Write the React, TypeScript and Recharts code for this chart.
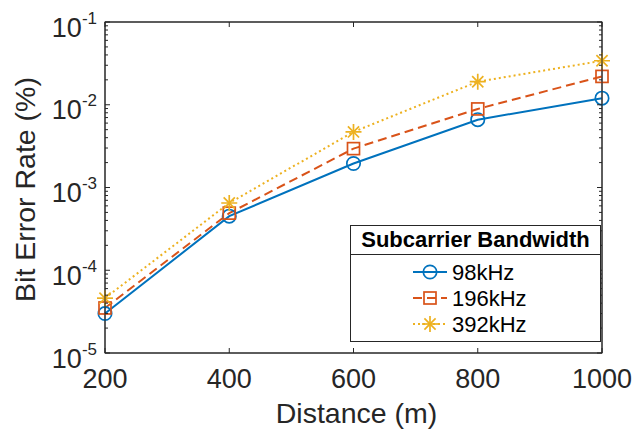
import React from 'react';
import { LineChart, Line, XAxis, YAxis, ReferenceLine } from 'recharts';

const distances = [200, 400, 600, 800, 1000];
const ber98 = [3.0e-5, 4.5e-4, 1.95e-3, 6.6e-3, 1.2e-2];
const ber196 = [3.5e-5, 4.9e-4, 2.95e-3, 8.9e-3, 2.2e-2];
const ber392 = [4.6e-5, 6.5e-4, 4.7e-3, 1.9e-2, 3.4e-2];
const seriesNames = ['98kHz', '196kHz', '392kHz'];
const legendTitle = 'Subcarrier Bandwidth';
const xTicks = [200, 400, 600, 800, 1000];
const yDecades = [1e-5, 1e-4, 1e-3, 1e-2, 1e-1];
const xLabel = 'Distance (m)';
const yLabel = 'Bit Error Rate (%)';

const FONT = '"Liberation Sans", Arial, Helvetica, sans-serif';
const AX = '#262626';

const W = 636;
const H = 429;
const Y_AXIS_W = 105;
const X_AXIS_H = 76;
const MARGIN = { top: 22, right: 34, bottom: 0, left: 0 };
const PLOT_X = MARGIN.left + Y_AXIS_W;
const PLOT_Y = MARGIN.top;
const PLOT_W = W - MARGIN.left - MARGIN.right - Y_AXIS_W;
const PLOT_H = H - MARGIN.top - MARGIN.bottom - X_AXIS_H;

const data = distances.map((d, i) => ({ d, s98: ber98[i], s196: ber196[i], s392: ber392[i] }));

const yTicks: number[] = [];
yDecades.forEach((dec, i) => {
  yTicks.push(dec);
  if (i < yDecades.length - 1) for (let m = 2; m <= 9; m++) yTicks.push(dec * m);
});
const isMajor = (v: number) => Math.abs(Math.log10(v) - Math.round(Math.log10(v))) < 1e-9;

const series = [
  { key: 's98', name: seriesNames[0], color: '#0072BD', dash: undefined as string | undefined, marker: 'circle' },
  { key: 's196', name: seriesNames[1], color: '#D95319', dash: '9 5', marker: 'square' },
  { key: 's392', name: seriesNames[2], color: '#EDB120', dash: '2 3', marker: 'star' },
];

function Marker({ cx, cy, type, color }: { cx: number; cy: number; type: string; color: string }) {
  const sw = 1.7;
  if (type === 'circle') return <circle cx={cx} cy={cy} r={6.7} fill="none" stroke={color} strokeWidth={sw} />;
  if (type === 'square') return <rect x={cx - 6} y={cy - 6} width={12} height={12} fill="none" stroke={color} strokeWidth={sw} />;
  const r = 8;
  const q = r * 0.7;
  return (
    <g stroke={color} strokeWidth={sw}>
      <line x1={cx - r} y1={cy} x2={cx + r} y2={cy} />
      <line x1={cx} y1={cy - r} x2={cx} y2={cy + r} />
      <line x1={cx - q} y1={cy - q} x2={cx + q} y2={cy + q} />
      <line x1={cx - q} y1={cy + q} x2={cx + q} y2={cy - q} />
    </g>
  );
}

const LeftYTick = (props: any) => {
  const { x, y, payload } = props;
  const v = payload.value;
  const major = isMajor(v);
  const len = major ? 5 : 3;
  const exp = Math.round(Math.log10(v));
  const xr = x + PLOT_W;
  return (
    <g>
      <line x1={x} y1={y} x2={x + len} y2={y} stroke={AX} strokeWidth={1} />
      <line x1={xr} y1={y} x2={xr - len} y2={y} stroke={AX} strokeWidth={1} />
      {major && (
        <text x={x - 8} y={y + 14.5} textAnchor="end" fontFamily={FONT} fontSize={27} fill={AX}>
          <tspan>10</tspan>
          <tspan fontSize={17} dy={-13}>{String(exp)}</tspan>
        </text>
      )}
    </g>
  );
};

const BottomXTick = (props: any) => {
  const { x, y, payload } = props;
  const yt = y - PLOT_H;
  return (
    <g>
      <line x1={x} y1={y} x2={x} y2={y - 5} stroke={AX} strokeWidth={1} />
      <line x1={x} y1={yt} x2={x} y2={yt + 5} stroke={AX} strokeWidth={1} />
      <text x={x} y={y + 35} textAnchor="middle" fontFamily={FONT} fontSize={27} fill={AX}>
        {payload.value}
      </text>
    </g>
  );
};

const LegendBox = () => {
  const w = 251;
  const h = 117;
  const rows = [55, 81, 107];
  return (
    <svg width={w} height={h} style={{ display: 'block' }}>
      <rect x={0.5} y={0.5} width={w - 1} height={h - 1} fill="#ffffff" stroke={AX} strokeWidth={1} />
      <line x1={0.5} y1={29.5} x2={w - 0.5} y2={29.5} stroke={AX} strokeWidth={1} />
      <text x={w / 2} y={22} textAnchor="middle" fontFamily={FONT} fontWeight="bold" fontSize={22} fill="#000">
        {legendTitle}
      </text>
      {series.map((s, i) => {
        const cy = rows[i] - 8;
        return (
          <g key={s.key}>
            <line x1={63} y1={cy} x2={97} y2={cy} stroke={s.color} strokeWidth={2} strokeDasharray={s.dash} />
            <Marker cx={80} cy={cy} type={s.marker} color={s.color} />
            <text x={102} y={rows[i]} fontFamily={FONT} fontSize={22} fill="#000">
              {s.name}
            </text>
          </g>
        );
      })}
    </svg>
  );
};

export default function App() {
  const ylx = 35;
  const yly = PLOT_Y + PLOT_H / 2 + 2;
  return (
    <div style={{ position: 'absolute', left: 0, top: 0, width: W, height: H }}>
      <LineChart width={W} height={H} data={data} margin={MARGIN}>
        <XAxis
          dataKey="d"
          type="number"
          domain={[200, 1000]}
          ticks={xTicks}
          interval={0}
          height={X_AXIS_H}
          tickSize={0}
          tickMargin={0}
          tick={BottomXTick}
          tickLine={false}
          axisLine={{ stroke: AX, strokeWidth: 1 }}
        />
        <YAxis
          type="number"
          scale="log"
          domain={[1e-5, 1e-1]}
          ticks={yTicks}
          interval={0}
          width={Y_AXIS_W}
          tickSize={0}
          tickMargin={0}
          tick={LeftYTick}
          tickLine={false}
          axisLine={{ stroke: AX, strokeWidth: 1 }}
          allowDataOverflow
        />
        <ReferenceLine y={yDecades[yDecades.length - 1]} stroke={AX} strokeWidth={1} />
        <ReferenceLine x={xTicks[xTicks.length - 1]} stroke={AX} strokeWidth={1} />
        {series.map((s) => (
          <Line
            key={s.key}
            dataKey={s.key}
            name={s.name}
            type="linear"
            stroke={s.color}
            strokeWidth={2}
            strokeDasharray={s.dash}
            isAnimationActive={false}
            dot={(p: any) => <Marker key={`${s.key}-${p.index}`} cx={p.cx} cy={p.cy} type={s.marker} color={s.color} />}
            activeDot={false}
          />
        ))}
      </LineChart>
      <svg width={W} height={H} style={{ position: 'absolute', left: 0, top: 0, pointerEvents: 'none' }}>
        <rect x={PLOT_X} y={PLOT_Y} width={PLOT_W} height={PLOT_H} fill="none" stroke={AX} strokeWidth={1} />
        <text x={PLOT_X + PLOT_W / 2 + 3} y={PLOT_Y + PLOT_H + 70} textAnchor="middle" fontFamily={FONT} fontSize={28.5} fill={AX}>
          {xLabel}
        </text>
        <text x={ylx} y={yly} transform={`rotate(-90 ${ylx} ${yly})`} textAnchor="middle" fontFamily={FONT} fontSize={28.5} fill={AX}>
          {yLabel}
        </text>
      </svg>
      <div style={{ position: 'absolute', left: 350, top: 225 }}>
        <LegendBox />
      </div>
    </div>
  );
}
